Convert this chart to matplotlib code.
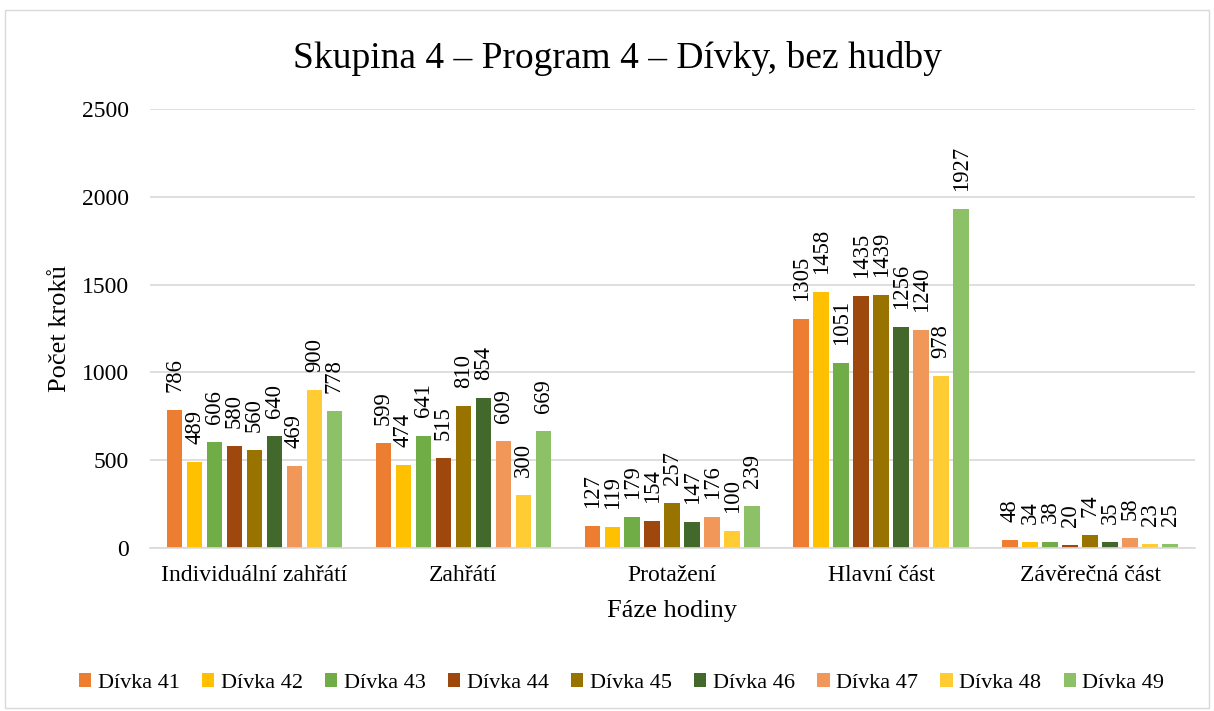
import numpy as np
import matplotlib.pyplot as plt
from matplotlib.patches import Rectangle

phases = ["Individuální zahřátí", "Zahřátí", "Protažení", "Hlavní část", "Závěrečná část"]
girls = ["Dívka 41", "Dívka 42", "Dívka 43", "Dívka 44", "Dívka 45",
         "Dívka 46", "Dívka 47", "Dívka 48", "Dívka 49"]
steps = [
    [786, 599, 127, 1305, 48],   # Dívka 41
    [489, 474, 119, 1458, 34],   # Dívka 42
    [606, 641, 179, 1051, 38],   # Dívka 43
    [580, 515, 154, 1435, 20],   # Dívka 44
    [560, 810, 257, 1439, 74],   # Dívka 45
    [640, 854, 147, 1256, 35],   # Dívka 46
    [469, 609, 176, 1240, 58],   # Dívka 47
    [900, 300, 100, 978, 23],    # Dívka 48
    [778, 669, 239, 1927, 25],   # Dívka 49
]
colors = ["#ED7D31", "#FFC000", "#70AD47", "#9E480E", "#997300",
          "#43682B", "#F1975A", "#FFCD33", "#8CC168"]

plt.rcParams['font.family'] = ['Liberation Serif', 'DejaVu Serif']

fig = plt.figure(figsize=(12.14, 7.11), dpi=100)
ax = fig.add_axes([0.1236, 0.229, 0.8604, 0.618])

x = np.arange(len(phases))
step = 0.0957
width = 0.075
n = len(girls)
for i, (name, vals, c) in enumerate(zip(girls, steps, colors)):
    pos = x + (i - (n - 1) / 2) * step
    bars = ax.bar(pos, vals, width, color=c, label=name, zorder=2)
    for b, v in zip(bars, vals):
        ax.annotate(str(v), (b.get_x() + b.get_width() / 2, v), xytext=(0, 13),
                    textcoords='offset points', rotation=90,
                    ha='center', va='bottom', fontsize=16.3, color='black')

ax.set_ylim(0, 2500)
ax.set_xlim(-0.5, len(phases) - 0.5)
ax.set_yticks(np.arange(0, 2501, 500))
ax.set_xticks(x)
ax.set_xticklabels(phases)
ax.tick_params(axis='both', length=0, labelsize=17)
ax.tick_params(axis='y', pad=15)
ax.tick_params(axis='x', pad=12)
ax.grid(axis='y', color='#D9D9D9', linewidth=1.2, zorder=0)
for s in ['top', 'right', 'left']:
    ax.spines[s].set_visible(False)
ax.spines['bottom'].set_color('#D9D9D9')
ax.spines['bottom'].set_linewidth(1.2)

ax.set_xlabel("Fáze hodiny", fontsize=19, labelpad=10)
ax.set_ylabel("Počet kroků", fontsize=19, labelpad=8)
fig.text(617 / 1214, 1 - 58 / 711, "Skupina 4 – Program 4 – Dívky, bez hudby",
         fontsize=27, ha='center', va='center')

fig.legend(loc='center', bbox_to_anchor=(0.512, 1 - 683 / 711), ncol=9, frameon=False,
           fontsize=16, handlelength=0.55, handleheight=0.55, handletextpad=0.3,
           columnspacing=1.0)

fig.patches.append(Rectangle((0.004, 0.004), 0.992, 0.982, transform=fig.transFigure,
                             fill=False, edgecolor='#D9D9D9', linewidth=1))

fig.savefig("out.png", dpi=100)
